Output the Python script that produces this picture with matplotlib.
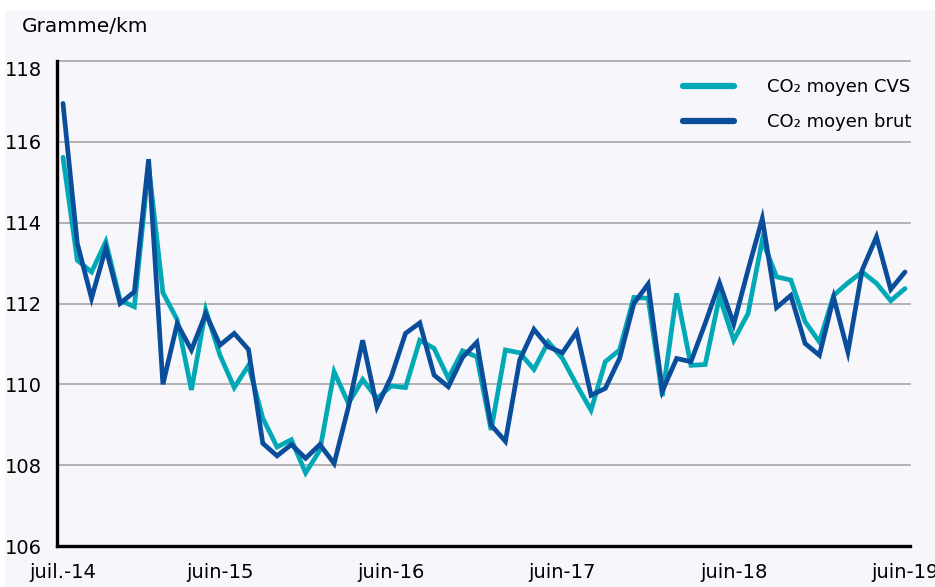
import matplotlib
matplotlib.use("Agg")
import matplotlib.pyplot as plt
from matplotlib.patches import Rectangle

# ---- data ----
fr_months = ["janv.", "févr.", "mars", "avr.", "mai", "juin",
             "juil.", "août", "sept.", "oct.", "nov.", "déc."]
months = []
for k in range(60):
    m = (6 + k) % 12
    y = 14 + (6 + k) // 12
    months.append(f"{fr_months[m]}-{y}")

co2_cvs = [115.62, 113.07, 112.78, 113.53, 112.08, 111.92, 115.40, 112.27, 111.60, 109.86,
           111.84, 110.72, 109.92, 110.47, 109.16, 108.45, 108.63, 107.81, 108.37, 110.31,
           109.53, 110.12, 109.65, 109.96, 109.92, 111.09, 110.89, 110.15, 110.83, 110.68,
           108.87, 110.85, 110.78, 110.37, 111.05, 110.64, 109.98, 109.36, 110.56, 110.85,
           112.15, 112.13, 109.71, 112.25, 110.47, 110.49, 112.17, 111.09, 111.75, 113.57,
           112.66, 112.58, 111.55, 111.05, 112.20, 112.51, 112.78, 112.50, 112.07, 112.37]

co2_brut = [116.95, 113.49, 112.13, 113.37, 112.00, 112.29, 115.57, 110.00, 111.50, 110.85,
            111.75, 110.97, 111.26, 110.86, 108.54, 108.23, 108.51, 108.17, 108.51, 108.04,
            109.44, 111.09, 109.44, 110.19, 111.26, 111.52, 110.23, 109.94, 110.67, 111.04,
            108.99, 108.59, 110.60, 111.36, 110.93, 110.78, 111.30, 109.73, 109.90, 110.64,
            112.00, 112.48, 109.84, 110.64, 110.56, 111.51, 112.51, 111.49, 112.83, 114.10,
            111.90, 112.20, 111.01, 110.72, 112.15, 110.80, 112.83, 113.65, 112.35, 112.78]

tick_labels = ["juil.-14", "juin-15", "juin-16", "juin-17", "juin-18", "juin-19"]
y_ticks = [106, 108, 110, 112, 114, 116, 118]
series_names = ["CO\u2082 moyen CVS", "CO\u2082 moyen brut"]

# ---- style ----
W, H = 935, 587
bg = "#f6f6fb"
c_cvs = "#00a9b5"
c_brut = "#0a4e9b"
grid_c = "#a6a6a6"
plt.rcParams['font.family'] = ['DejaVu Sans']

fig = plt.figure(figsize=(W / 100, H / 100), dpi=100, facecolor=bg)
# white margins at top and left
fig.patches.append(Rectangle((0, 1 - 10 / H), 1, 10 / H, transform=fig.transFigure,
                             facecolor="white", edgecolor="none", zorder=-10))
fig.patches.append(Rectangle((0, 0), 5 / W, 1, transform=fig.transFigure,
                             facecolor="white", edgecolor="none", zorder=-10))

ax = fig.add_axes([57 / W, 1 - 546 / H, (910 - 57) / W, (546 - 61) / H])
ax.set_facecolor(bg)

x = list(range(len(months)))
ax.plot(x, co2_cvs, color=c_cvs, lw=3.4, solid_capstyle="round",
        solid_joinstyle="miter", label=series_names[0], zorder=3)
ax.plot(x, co2_brut, color=c_brut, lw=3.4, solid_capstyle="round",
        solid_joinstyle="miter", label=series_names[1], zorder=4)

ax.set_xlim(-0.42, 59.35)
ax.set_ylim(106, 118)
ax.set_yticks(y_ticks)
ax.set_yticklabels([str(v) for v in y_ticks])
tick_pos = [months.index(t) for t in tick_labels]
ax.set_xticks(tick_pos)
ax.set_xticklabels(tick_labels)

for v in y_ticks[1:]:
    ax.axhline(v, color=grid_c, lw=1.2, zorder=1, clip_on=False)

for s in ["top", "right"]:
    ax.spines[s].set_visible(False)
for s in ["left", "bottom"]:
    ax.spines[s].set_color("black")
    ax.spines[s].set_linewidth(2.4)
    ax.spines[s].set_zorder(5)

ax.tick_params(axis="both", length=0, labelsize=14, colors="black")
ax.tick_params(axis="y", pad=11)
ax.tick_params(axis="x", pad=12)
ax.get_yticklabels()[-1].set_va("top")

fig.text(22 / W, 1 - 26 / H, "Gramme/km", fontsize=14.5, va="center", ha="left")

leg = ax.legend(loc="upper left", bbox_to_anchor=(683 / W, 1 - 78 / H),
                bbox_transform=fig.transFigure, frameon=False, fontsize=13,
                handlelength=2.83, handletextpad=1.8, labelspacing=0.95,
                borderpad=0, borderaxespad=0)
for line in leg.get_lines():
    line.set_linewidth(4.5)
    line.set_solid_capstyle("round")

fig.savefig("out.png", dpi=100, facecolor=bg)
